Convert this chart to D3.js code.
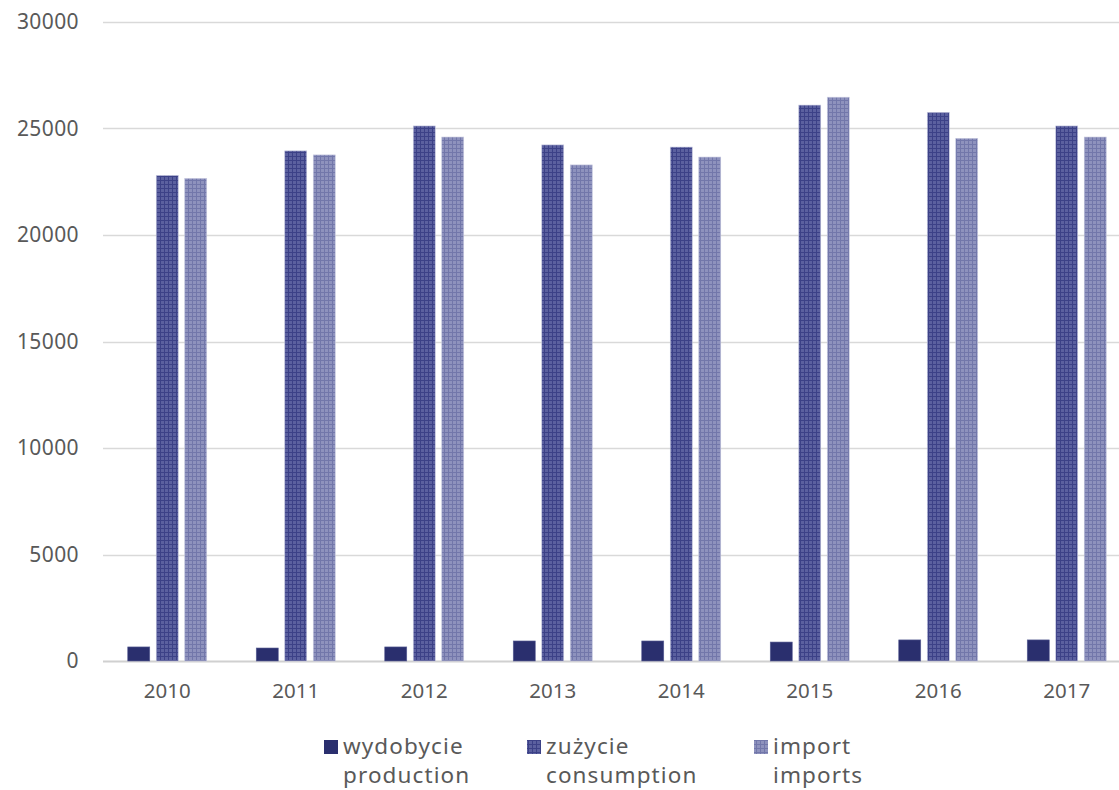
<!DOCTYPE html>
<html><head><meta charset="utf-8">
<script src="https://cdn.jsdelivr.net/npm/d3@7"></script>
<style>body{margin:0;background:#fff}svg{display:block}text{font-family:"Noto Sans","Open Sans",sans-serif;fill:#595959}</style>
</head><body>
<script>
const years = ["2010","2011","2012","2013","2014","2015","2016","2017"];
const production = [660, 610, 660, 940, 940, 890, 990, 990];
const consumption = [22800, 23950, 25120, 24230, 24130, 26100, 25760, 25120];
const imports = [22660, 23760, 24600, 23290, 23660, 26470, 24540, 24600];
const yTicks = [0, 5000, 10000, 15000, 20000, 25000, 30000];
const seriesNames = [["wydobycie","production"],["zużycie","consumption"],["import","imports"]];

const W = 1119, H = 790;
const svg = d3.select("body").append("svg").attr("width", W).attr("height", H);
const defs = svg.append("defs");
function grid(id, base, line){
  const p = defs.append("pattern").attr("id", id).attr("patternUnits","userSpaceOnUse").attr("width",4).attr("height",4);
  p.append("rect").attr("width",4).attr("height",4).attr("fill",base);
  p.append("rect").attr("x",0).attr("y",0).attr("width",4).attr("height",1).attr("fill",line);
  p.append("rect").attr("x",0).attr("y",0).attr("width",1).attr("height",4).attr("fill",line);
}
grid("pCons", "#5b609f", "#3c4187");
grid("pImp", "#8e92bd", "#7277aa");
const fills = ["#2a2f6e", "url(#pCons)", "url(#pImp)"];

const y = d3.scaleLinear().domain([0, 30000]).range([661, 22]);
const x0 = d3.scaleBand().domain(years).range([103, 1131]).paddingInner(0).paddingOuter(0);

// gridlines
svg.append("g").selectAll("line").data(yTicks).join("line")
  .attr("x1", 103).attr("x2", 1131)
  .attr("y1", d => Math.round(y(d)) + 0.5).attr("y2", d => Math.round(y(d)) + 0.5)
  .attr("stroke", d => d === 0 ? "#d0d0d0" : "#d9d9d9").attr("stroke-width", d => d===0?2:1.5);

svg.append("g").selectAll("text").data(yTicks).join("text")
  .attr("x", 79).attr("y", d => y(d) + 7).attr("text-anchor","end")
  .attr("font-size", 21).attr("letter-spacing", 0.4).text(d => d);

// bars
const barW = 22, gap = 6.5;
const data = [production, consumption, imports];
const offs = [-(barW + gap) - barW/2, -barW/2, barW/2 + gap];
data.forEach((vals, si) => {
  svg.append("g").selectAll("rect").data(vals).join("rect")
    .attr("x", (d,i) => x0(years[i]) + x0.bandwidth()/2 + offs[si])
    .attr("width", barW)
    .attr("y", d => y(d))
    .attr("height", d => y(0) - y(d))
    .attr("fill", fills[si])
    .attr("stroke", si === 0 ? "#5a5f95" : "#c8cae0").attr("stroke-width", 0.6);
});

// x labels
svg.append("g").selectAll("text").data(years).join("text")
  .attr("x", d => x0(d) + x0.bandwidth()/2).attr("y", 698).attr("text-anchor","middle")
  .attr("font-size", 20.5).text(d => d);

// legend
const legX = [324, 527, 754];
seriesNames.forEach((nm, i) => {
  svg.append("rect").attr("x", legX[i]).attr("y", 740).attr("width", 14).attr("height", 14).attr("fill", fills[i]);
  const t = svg.append("text").attr("x", legX[i] + 19).attr("y", 754).attr("font-size", 22.5).attr("letter-spacing", 1.1);
  t.append("tspan").attr("x", legX[i] + 19).text(nm[0]);
  t.append("tspan").attr("x", legX[i] + 19).attr("dy", 29).text(nm[1]);
});
</script>
</body></html>
